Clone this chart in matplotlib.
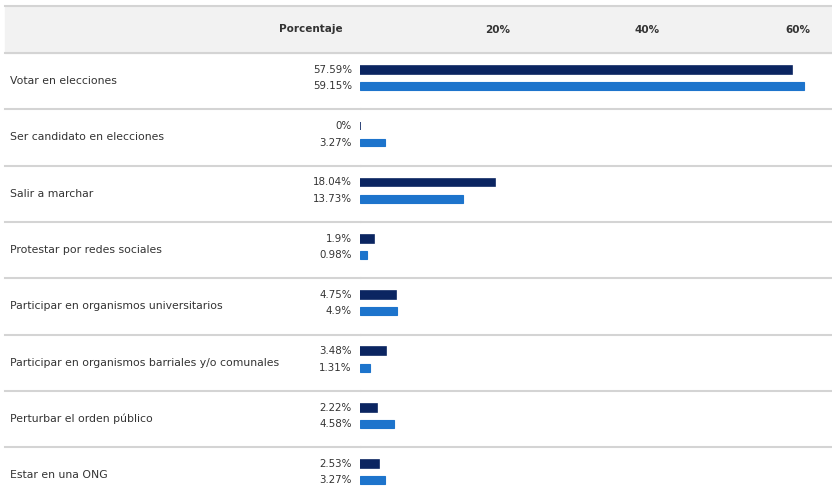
import matplotlib.pyplot as plt
from matplotlib.patches import Rectangle
from matplotlib.lines import Line2D
from matplotlib.transforms import blended_transform_factory

categorias = [
    "Votar en elecciones",
    "Ser candidato en elecciones",
    "Salir a marchar",
    "Protestar por redes sociales",
    "Participar en organismos universitarios",
    "Participar en organismos barriales y/o comunales",
    "Perturbar el orden público",
    "Estar en una ONG",
]
serie_a = [57.59, 0, 18.04, 1.9, 4.75, 3.48, 2.22, 2.53]
serie_b = [59.15, 3.27, 13.73, 0.98, 4.9, 1.31, 4.58, 3.27]
ticks = [20, 40, 60]

W, H = 832, 491
fig = plt.figure(figsize=(W / 100, H / 100), dpi=100)
plt.rcParams['font.family'] = ['DejaVu Sans']

# zona de barras: de x=360 px al borde derecho, 7.5 px por punto porcentual
x0, top, fila = 360, 53, 56.3
ax = fig.add_axes([x0 / W, 0, (W - x0) / W, (H - top) / H])
ax.set_xlim(0, (W - x0) / 7.5)
ax.set_ylim((H - top) / fila, 0)
ax.patch.set_alpha(0)
for s in ax.spines.values():
    s.set_visible(False)
ax.set_yticks([])

# cabecera gris
fig.patches.append(Rectangle((5 / W, (H - top) / H), 1, (top - 7) / H,
                             transform=fig.transFigure, color='#f2f2f2', zorder=-5))
for yy in [6, top]:
    fig.lines.append(Line2D([5 / W, 1], [(H - yy) / H] * 2, transform=fig.transFigure,
                            color='#d4d4d4', lw=1.5, zorder=-4))

ax.xaxis.tick_top()
ax.set_xticks(ticks)
ax.set_xticklabels([f"{t}%" for t in ticks], ha='right', fontsize=7.5,
                   fontweight='bold', color='#333333')
ax.tick_params(axis='x', length=0, pad=13)
fig.text(343 / W, (H - 29) / H, "Porcentaje", ha='right', va='center',
         fontsize=7.5, fontweight='bold', color='#333333')

n = len(categorias)
ya = [i + 0.30 for i in range(n)]
yb = [i + 0.59 for i in range(n)]
ax.barh(ya, serie_a, height=0.14, color='#0b2561', edgecolor='#0b2561', lw=1.2)
ax.barh(yb, serie_b, height=0.14, color='#1d74cc', edgecolor='#1d74cc', lw=0.8)

for i in range(1, n):
    ax.axhline(i, color='#d4d4d4', lw=1.5, xmin=0, xmax=1)
    fig.lines.append(Line2D([5 / W, x0 / W], [1 - (top + i * fila) / H] * 2,
                            transform=fig.transFigure, color='#d4d4d4', lw=1.5))

tr = blended_transform_factory(fig.transFigure, ax.transData)
for i, cat in enumerate(categorias):
    ax.text(10 / W, i + 0.5, cat, transform=tr, ha='left', va='center',
            fontsize=7.8, color='#333333')
    ax.text(352 / W, ya[i], f"{serie_a[i]:g}%", transform=tr, ha='right',
            va='center', fontsize=7.4, color='#333333')
    ax.text(352 / W, yb[i], f"{serie_b[i]:g}%", transform=tr, ha='right',
            va='center', fontsize=7.4, color='#333333')

fig.savefig('out.png', dpi=100)
